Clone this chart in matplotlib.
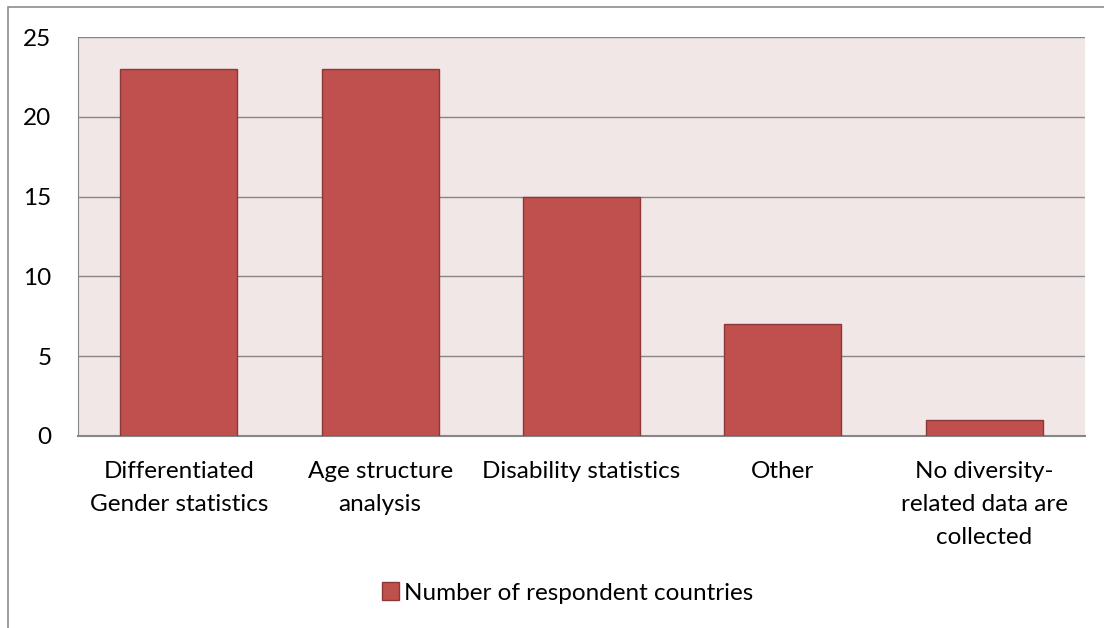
import matplotlib
matplotlib.use("Agg")
import matplotlib.pyplot as plt
from matplotlib.patches import Rectangle, Patch

categories = ["Differentiated\nGender statistics", "Age structure\nanalysis",
              "Disability statistics", "Other",
              "No diversity-\nrelated data are\ncollected"]
values = [23, 23, 15, 7, 1]
series_name = "Number of respondent countries"
y_ticks = [0, 5, 10, 15, 20, 25]

bar_color = "#C0504D"
edge_color = "#8C3836"
plot_bg = "#F2E7E7"

plt.rcParams['font.family'] = ['Lato', 'DejaVu Sans']

fig = plt.figure(figsize=(11.04, 6.28), dpi=100)
# outer chart border
fig.patches.append(Rectangle((8 / 1104, -0.01), 1.02, 1 - 7 / 628 + 0.01,
                             transform=fig.transFigure, fill=False,
                             edgecolor="#8C8C8C", linewidth=1.2))

ax = fig.add_axes([78 / 1104, 1 - 436 / 628, (1085 - 78) / 1104, (436 - 37) / 628])
ax.set_facecolor(plot_bg)

x = range(len(categories))
ax.bar(x, values, width=0.58, color=bar_color, edgecolor=edge_color, linewidth=1, zorder=3)

ax.set_xlim(-0.5, len(categories) - 0.5)
ax.set_ylim(0, 25)
ax.set_yticks(y_ticks)
ax.set_yticklabels([str(v) for v in y_ticks], fontsize=17.5)
ax.set_xticks(list(x))
ax.set_xticklabels(categories, fontsize=17.5, linespacing=1.7)
ax.tick_params(axis="both", length=0)
ax.tick_params(axis="y", pad=19)
ax.tick_params(axis="x", pad=18)

for g in y_ticks[1:]:
    ax.axhline(g, color="#868686", linewidth=1, zorder=1)

for s in ["top", "right"]:
    ax.spines[s].set_visible(False)
ax.spines["left"].set_color("#868686")
ax.spines["bottom"].set_color("#868686")
ax.spines["bottom"].set_linewidth(1.5)

handle = Patch(facecolor=bar_color, edgecolor=edge_color, label=series_name)
fig.legend(handles=[handle], loc="center", bbox_to_anchor=(568 / 1104, 1 - 593 / 628),
           frameon=False, fontsize=17.5, handlelength=0.7, handleheight=0.7,
           handletextpad=0.2)

fig.savefig("out.png", dpi=100)
